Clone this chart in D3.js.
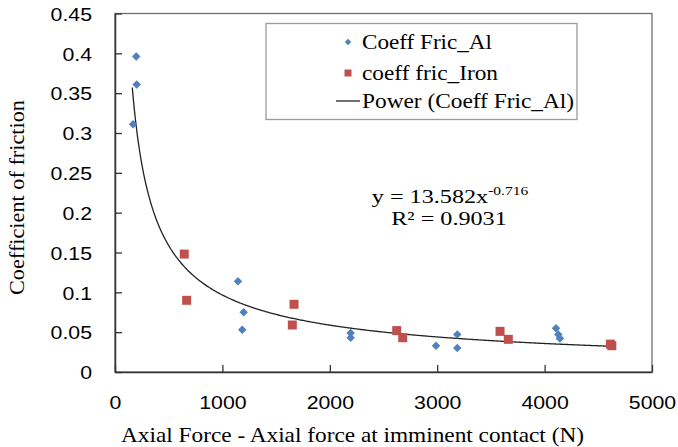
<!DOCTYPE html>
<html>
<head>
<meta charset="utf-8">
<script src="https://cdnjs.cloudflare.com/ajax/libs/d3/7.8.5/d3.min.js"></script>
<style>
  body { margin: 0; background: #fff; }
</style>
</head>
<body>
<div id="chart"></div>
<script>
// data
var alX = [168, 198, 202, 1145, 1185, 1198, 2194, 2194, 2989, 3187, 3187, 4106, 4128, 4143];
var alY = [0.311, 0.396, 0.361, 0.114, 0.053, 0.075, 0.049, 0.043, 0.033, 0.047, 0.030, 0.055, 0.047, 0.042];
var ironX = [645, 667, 1651, 1667, 2623, 2679, 3585, 3662, 4612, 4626];
var ironY = [0.148, 0.090, 0.059, 0.085, 0.052, 0.043, 0.051, 0.041, 0.035, 0.033];
// power trendline y = a * x^b, as printed on the chart
var powerFit = [13.582, -0.716];
var fitRange = [161, 4624];
var xTicks = [0, 1000, 2000, 3000, 4000, 5000];
var yTicks = [0, 0.05, 0.1, 0.15, 0.2, 0.25, 0.3, 0.35, 0.4, 0.45];
var legendLabels = ["Coeff Fric_Al", "coeff fric_Iron", "Power (Coeff Fric_Al)"];

function drawChart() {
    var width = 678,
        height = 447;
    var pLeft = 115, pRight = 652, pTop = 13.5, pBottom = 372;
    var blue = "#4f81bd", red = "#c0504d";
    var serif = "'Liberation Serif', 'Times New Roman', serif",
        sans = "'Liberation Sans', Arial, sans-serif";

    var svg = d3.select("#chart").append("svg")
        .attr("width", width)
        .attr("height", height);

    var x = d3.scaleLinear().domain([0, 5000]).range([pLeft, pRight]);
    var y = d3.scaleLinear().domain([0, 0.45]).range([pBottom, pTop]);

    // plot frame
    svg.append("rect")
        .attr("x", pLeft)
        .attr("y", pTop)
        .attr("width", pRight - pLeft)
        .attr("height", pBottom - pTop)
        .attr("fill", "none")
        .attr("stroke", "#6e6e6e")
        .attr("stroke-width", 1.3);

    // AXES (ticks pointing inside)
    var xAxis = svg.append("g")
        .attr("transform", "translate(0," + pBottom + ")")
        .call(d3.axisBottom(x).tickValues(xTicks).tickSizeInner(-7).tickSizeOuter(0).tickPadding(0)
            .tickFormat(d3.format("d")));

    var yAxis = svg.append("g")
        .attr("transform", "translate(" + pLeft + ",0)")
        .call(d3.axisLeft(y).tickValues(yTicks).tickSizeInner(-7).tickSizeOuter(0).tickPadding(0)
            .tickFormat(function(d) { return d === 0 ? "0" : String(+d.toFixed(2)); }));

    [xAxis, yAxis].forEach(function(ax) {
        ax.select(".domain").attr("stroke", "#333").attr("stroke-width", 1.5);
        ax.selectAll(".tick line").attr("stroke", "#333").attr("stroke-width", 1.3);
        ax.selectAll(".tick text")
            .attr("font-family", sans)
            .attr("font-size", 18.5)
            .attr("fill", "#000");
    });

    xAxis.selectAll(".tick text")
        .attr("y", null).attr("dy", null)
        .attr("transform", "translate(0,37) scale(1.15,1)");

    yAxis.selectAll(".tick text")
        .attr("x", null).attr("dy", "0.36em")
        .attr("transform", "translate(-23,0) scale(1.15,1)");

    // trendline
    var a = powerFit[0], b = powerFit[1];
    var fitPts = d3.range(fitRange[0], fitRange[1], 10).concat([fitRange[1]])
        .map(function(v) { return [v, a * Math.pow(v, b)]; });

    svg.append("path")
        .datum(fitPts)
        .attr("fill", "none")
        .attr("stroke", "#222")
        .attr("stroke-width", 1.3)
        .attr("d", d3.line()
            .x(function(d) { return x(d[0]); })
            .y(function(d) { return y(d[1]); }));

    // POINTS
    var diamond = d3.symbol().type(d3.symbolDiamond2).size(46);

    svg.append("g")
        .selectAll("path")
        .data(d3.zip(alX, alY))
        .enter()
        .append("path")
        .attr("d", diamond)
        .attr("transform", function(d) { return "translate(" + x(d[0]) + "," + y(d[1]) + ")"; })
        .attr("fill", blue);

    svg.append("g")
        .selectAll("rect")
        .data(d3.zip(ironX, ironY))
        .enter()
        .append("rect")
        .attr("x", function(d) { return x(d[0]) - 4.5; })
        .attr("y", function(d) { return y(d[1]) - 4.5; })
        .attr("width", 9)
        .attr("height", 9)
        .attr("fill", red);

    // LEGEND
    var legend = svg.append("g");
    legend.append("rect")
        .attr("x", 266)
        .attr("y", 23.5)
        .attr("width", 311)
        .attr("height", 96)
        .attr("fill", "#fff")
        .attr("stroke", "#9a9a9a")
        .attr("stroke-width", 1.3);

    var rowY = [42, 73, 101];
    var labelWidths = [130, 136, 212];

    legend.append("path")
        .attr("d", d3.symbol().type(d3.symbolDiamond2).size(26))
        .attr("transform", "translate(348," + rowY[0] + ")")
        .attr("fill", blue);
    legend.append("rect")
        .attr("x", 344.5).attr("y", rowY[1] - 3.5)
        .attr("width", 7).attr("height", 7)
        .attr("fill", red);
    legend.append("line")
        .attr("x1", 336).attr("x2", 360)
        .attr("y1", rowY[2]).attr("y2", rowY[2])
        .attr("stroke", "#222").attr("stroke-width", 1.3);

    legend.selectAll("text.lbl")
        .data(legendLabels)
        .enter()
        .append("text")
        .attr("class", "lbl")
        .attr("x", 362)
        .attr("y", function(d, i) { return rowY[i] + 6.5; })
        .attr("font-family", serif)
        .attr("font-size", 20.5)
        .attr("fill", "#000")
        .attr("textLength", function(d, i) { return labelWidths[i]; })
        .attr("lengthAdjust", "spacingAndGlyphs")
        .text(function(d) { return d; });

    // EQUATION
    var eq = svg.append("text")
        .attr("transform", "translate(450,203) scale(1.24,1)")
        .attr("text-anchor", "middle")
        .attr("font-family", serif)
        .attr("font-size", 19.5)
        .attr("fill", "#000");
    eq.append("tspan").text("y = " + a + "x");
    eq.append("tspan").attr("font-size", 12.5).attr("dy", -8).text(String(b));

    svg.append("text")
        .attr("transform", "translate(449,225) scale(1.24,1)")
        .attr("text-anchor", "middle")
        .attr("font-family", serif)
        .attr("font-size", 19.5)
        .attr("fill", "#000")
        .text("R² = 0.9031");

    // AXIS TITLES
    svg.append("text")
        .attr("x", 352.5)
        .attr("y", 442)
        .attr("text-anchor", "middle")
        .attr("font-family", serif)
        .attr("font-size", 21.5)
        .attr("fill", "#000")
        .attr("textLength", 463)
        .attr("lengthAdjust", "spacingAndGlyphs")
        .text("Axial Force - Axial force at imminent contact (N)");

    svg.append("text")
        .attr("transform", "translate(23.5,197.5) rotate(-90)")
        .attr("text-anchor", "middle")
        .attr("font-family", serif)
        .attr("font-size", 20)
        .attr("fill", "#000")
        .attr("textLength", 195)
        .attr("lengthAdjust", "spacingAndGlyphs")
        .text("Coefficient of friction");
}

drawChart();
</script>
</body>
</html>
